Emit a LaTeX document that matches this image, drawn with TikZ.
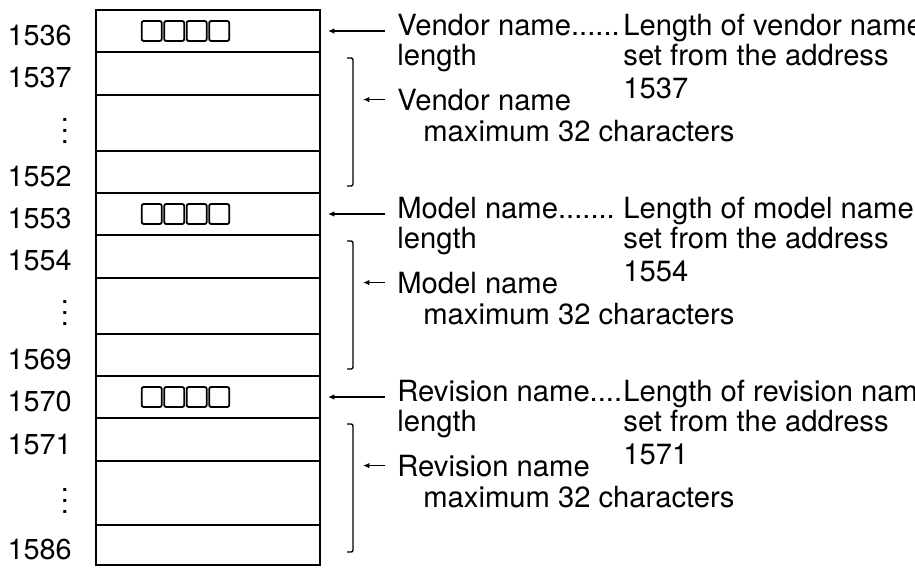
\documentclass[tikz,border=0pt]{standalone}
\usepackage{fontspec}
\setmainfont{TeX Gyre Heros}
\usepackage{tikz}
\usetikzlibrary{arrows.meta, positioning, calc}
\newcommand{\addrdots}{\vbox{\baselineskip=5.5pt \lineskiplimit=-20pt \hbox{.}\hbox{.}\hbox{.}}}
\tikzset{
  cell/.style={draw, line width=0.9pt, minimum width=112pt, inner sep=0pt, outer sep=0pt},
  addr/.style={font=\fontsize{14.4}{16}\selectfont, inner sep=0pt, yshift=-2.25pt},
  note/.style={font=\fontsize{14.6}{16}\selectfont, inner sep=0pt, anchor=base west},
  sq/.style={draw, line width=0.9pt, rounded corners=1pt, minimum size=10pt, inner sep=0pt},
  ptr/.style={-{Latex[length=3.2pt, width=2.8pt]}, line width=0.7pt},
  brace/.style={line width=0.7pt, rounded corners=1pt},
  frame/.style={line width=1.4pt}
}

\begin{document}
\begin{tikzpicture}
\useasboundingbox (-48pt,5pt) rectangle (409.5pt,-279pt);
% memory cells
\node[cell, minimum height=21pt, anchor=north west] (v0) at (0,0) {};
\node[cell, minimum height=21.5pt, below=0pt of v0] (v1) {};
\node[cell, minimum height=28pt, below=0pt of v1] (v2) {};
\node[cell, minimum height=21pt, below=0pt of v2] (v3) {};
\node[cell, minimum height=21pt, below=0pt of v3] (m0) {};
\node[cell, minimum height=21.5pt, below=0pt of m0] (m1) {};
\node[cell, minimum height=28pt, below=0pt of m1] (m2) {};
\node[cell, minimum height=21pt, below=0pt of m2] (m3) {};
\node[cell, minimum height=21pt, below=0pt of m3] (r0) {};
\node[cell, minimum height=21.5pt, below=0pt of r0] (r1) {};
\node[cell, minimum height=32pt, below=0pt of r1] (r2) {};
\node[cell, minimum height=20pt, below=0pt of r2] (r3) {};
\draw[frame] (v0.north west) rectangle (r3.south east);
\foreach \s in {v0,m0,r0}
  \foreach \i in {1,...,4}
    \node[sq] (\s s\i) at ($(\s.west)+(16.6pt+\i*11.25pt,0)$) {};

% addresses
\node[addr, left=12pt of v0] (a1536) {1536};
\node[addr, left=12pt of v1] (a1537) {1537};
\node[addr] (av) at ($(v2.west)+(-15.5pt,-1.5pt)$) {\addrdots};
\node[addr, left=12pt of v3] (a1552) {1552};
\node[addr, left=12pt of m0] (a1553) {1553};
\node[addr, left=12pt of m1] (a1554) {1554};
\node[addr] (am) at ($(m2.west)+(-15.5pt,-1pt)$) {\addrdots};
\node[addr, left=12pt of m3] (a1569) {1569};
\node[addr, left=12pt of r0] (a1570) {1570};
\node[addr, left=12pt of r1] (a1571) {1571};
\node[addr] (ar) at ($(r2.west)+(-15.5pt,-1.5pt)$) {\addrdots};
\node[addr, left=12pt of r3] (a1586) {1586};

% vendor name
\node[note] (vlen) at ($(v0.north east)+(38.5pt,-12.5pt)$) {Vendor name......};
\node[note] (vlen2) at ($(vlen.base west)+(0,-15pt)$) {length};
\node[note] (vset) at ($(v0.north east)+(151.5pt,-12.5pt)$) {Length of vendor name};
\node[note] (vset2) at ($(vset.base west)+(0,-15pt)$) {set from the address};
\node[note] (vset3) at ($(vset2.base west)+(0,-16.5pt)$) {1537};
\node[note] (vnm) at ($(v0.north east)+(38.5pt,-50pt)$) {Vendor name};
\node[note] (vmax) at ($(vnm.base west)+(13pt,-15.5pt)$) {maximum 32 characters};
\coordinate (vbr) at ($(v0.north east)+(16.5pt,-24pt)$);
\draw[brace] ($(vbr)+(-3pt,0)$) -- (vbr) -- ++(0,-64pt) -- ++(-3pt,0);
\draw[ptr, shorten <=6pt, shorten >=4pt] (v0.east -| vlen.west) -- (v0.east);
\draw[ptr, shorten <=6pt, shorten >=5pt] (vnm.west) -- (vnm.west -| vbr);

% model name
\node[note] (mlen) at ($(m0.north east)+(38.5pt,-12.5pt)$) {Model name.......};
\node[note] (mlen2) at ($(mlen.base west)+(0,-15pt)$) {length};
\node[note] (mset) at ($(m0.north east)+(151.5pt,-12.5pt)$) {Length of model name};
\node[note] (mset2) at ($(mset.base west)+(0,-15pt)$) {set from the address};
\node[note] (mset3) at ($(mset2.base west)+(0,-16.5pt)$) {1554};
\node[note] (mnm) at ($(m0.north east)+(38.5pt,-50pt)$) {Model name};
\node[note] (mmax) at ($(mnm.base west)+(13pt,-15.5pt)$) {maximum 32 characters};
\coordinate (mbr) at ($(m0.north east)+(16.5pt,-24pt)$);
\draw[brace] ($(mbr)+(-3pt,0)$) -- (mbr) -- ++(0,-64pt) -- ++(-3pt,0);
\draw[ptr, shorten <=6pt, shorten >=4pt] (m0.east -| mlen.west) -- (m0.east);
\draw[ptr, shorten <=6pt, shorten >=5pt] (mnm.west) -- (mnm.west -| mbr);

% revision name
\node[note] (rlen) at ($(r0.north east)+(38.5pt,-12.5pt)$) {Revision name....};
\node[note] (rlen2) at ($(rlen.base west)+(0,-15pt)$) {length};
\node[note] (rset) at ($(r0.north east)+(151.5pt,-12.5pt)$) {Length of revision name};
\node[note] (rset2) at ($(rset.base west)+(0,-15pt)$) {set from the address};
\node[note] (rset3) at ($(rset2.base west)+(0,-16.5pt)$) {1571};
\node[note] (rnm) at ($(r0.north east)+(38.5pt,-50pt)$) {Revision name};
\node[note] (rmax) at ($(rnm.base west)+(13pt,-15.5pt)$) {maximum 32 characters};
\coordinate (rbr) at ($(r0.north east)+(16.5pt,-24pt)$);
\draw[brace] ($(rbr)+(-3pt,0)$) -- (rbr) -- ++(0,-64pt) -- ++(-3pt,0);
\draw[ptr, shorten <=6pt, shorten >=4pt] (r0.east -| rlen.west) -- (r0.east);
\draw[ptr, shorten <=6pt, shorten >=5pt] (rnm.west) -- (rnm.west -| rbr);
\end{tikzpicture}
\end{document}
